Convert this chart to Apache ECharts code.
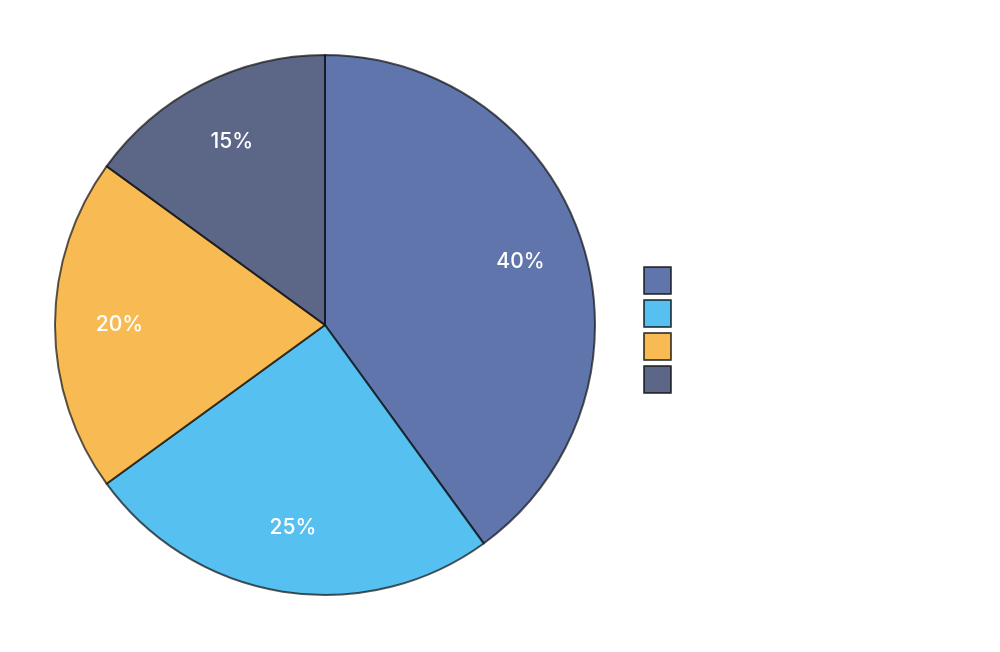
<!DOCTYPE html><html><head><meta charset="utf-8"><script src="https://cdn.jsdelivr.net/npm/echarts@6/dist/echarts.min.js"></script></head><body style="margin:0"><div id="c" style="width:1000px;height:652px"></div><script>
const categories=['A','B','C','D'];
const values=[40,25,20,15];
const colors=['#1e3a8a','#0ea5e9','#f59e0b','#172554'];
const data=categories.map((n,i)=>({name:n,value:values[i]}));
const ch=echarts.init(document.getElementById('c'));
ch.setOption({
 color:colors,
 legend:{orient:'vertical',left:638,top:261,itemWidth:27,itemHeight:27,itemGap:4,icon:'rect',textStyle:{color:'rgba(255,255,255,0)'},data:categories},
 series:[
 {type:'pie',center:[325,325],radius:[0,270],startAngle:90,clockwise:true,data:data,
  itemStyle:{opacity:0.7,borderColor:'#111',borderWidth:2},label:{show:false},emphasis:{disabled:true}},
 {type:'pie',center:[325,325],radius:[135,270],startAngle:90,clockwise:true,data:data,silent:true,legendHoverLink:false,
  itemStyle:{color:'rgba(0,0,0,0)',borderWidth:0},
  label:{show:true,position:'inner',formatter:'{c}%',color:'#fff',fontSize:21,fontFamily:'Inter',fontWeight:500},emphasis:{disabled:true}}
 ]
});
</script></body></html>
